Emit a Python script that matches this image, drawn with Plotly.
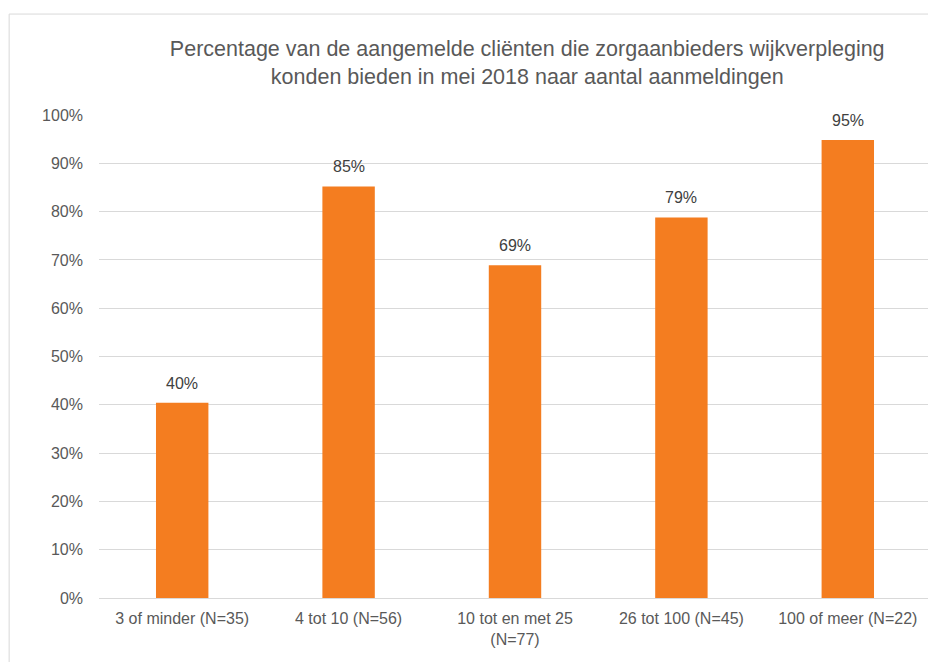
import plotly.graph_objects as go

categories = ["3 of minder (N=35)", "4 tot 10 (N=56)", "10 tot en met 25<br>(N=77)", "26 tot 100 (N=45)", "100 of meer (N=22)"]
values = [40.4, 85.2, 68.9, 78.8, 94.8]
labels = ["40%", "85%", "69%", "79%", "95%"]
tick_vals = [0, 10, 20, 30, 40, 50, 60, 70, 80, 90, 100]
tick_text = [f"{v}%" for v in tick_vals]

font_family = "Liberation Sans, Arial, sans-serif"
gray = "#595959"

fig = go.Figure(go.Bar(
    x=categories, y=values,
    marker=dict(color="#F47D20", line=dict(width=0)),
    width=0.315, hoverinfo="skip",
))

annotations = [
    dict(x=c, y=v, text=t, showarrow=False, xref="x", yref="y",
         yanchor="bottom", yshift=9,
         font=dict(family=font_family, size=16, color="#404040"))
    for c, v, t in zip(categories, values, labels)
]

fig.update_layout(
    width=928, height=654,
    margin=dict(l=91, r=5, t=107, b=64),
    paper_bgcolor="white", plot_bgcolor="white",
    showlegend=False,
    title=dict(
        text="Percentage van de aangemelde cliënten die zorgaanbieders wijkverpleging<br>konden bieden in mei 2018 naar aantal aanmeldingen",
        x=0.5595, xanchor="center", y=0.926, yanchor="middle",
        font=dict(family=font_family, size=21.5, color=gray),
    ),
    font=dict(family=font_family, color=gray),
    yaxis=dict(range=[0, 100], tickvals=tick_vals, ticktext=tick_text,
               showgrid=True, gridcolor="#D9D9D9", gridwidth=1, zeroline=False,
               showline=False, tickfont=dict(size=16, color=gray), ticklabelstandoff=15),
    xaxis=dict(showline=True, linecolor="#D9D9D9", linewidth=1, ticks="",
               tickfont=dict(size=16, color=gray), ticklabelstandoff=6),
    annotations=annotations,
    shapes=[dict(type="rect", xref="paper", yref="paper",
                 x0=-0.108, x1=1.02, y0=-0.16, y1=1.209,
                 line=dict(color="#D9D9D9", width=1), fillcolor="rgba(0,0,0,0)", layer="below")],
)

fig.write_html("out.html")
